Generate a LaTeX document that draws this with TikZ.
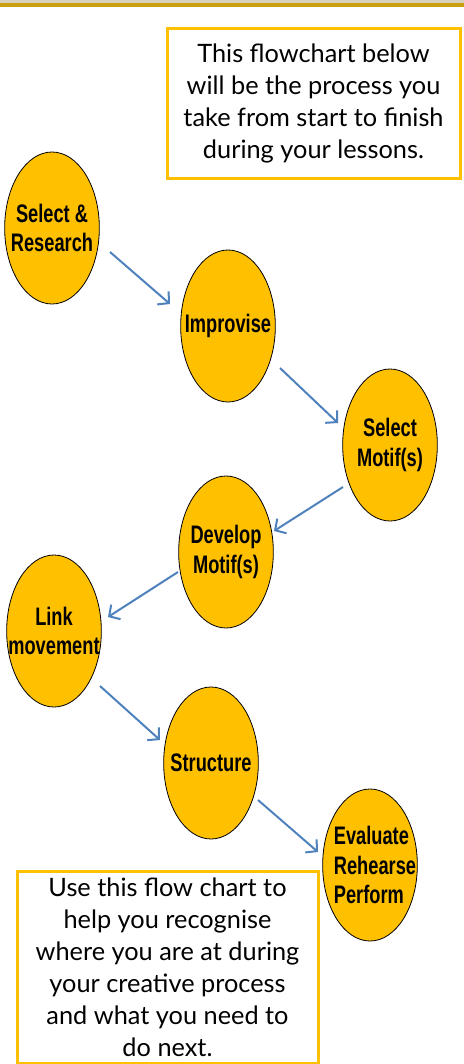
\documentclass[tikz,border=0pt]{standalone}
\usepackage{fontspec}
\setmainfont{Lato}
\newfontfamily\stagefont{Liberation Sans}[FakeStretch=0.72]
\usetikzlibrary{shapes.geometric}
\usetikzlibrary{arrows.meta}
\usetikzlibrary{calc}
\definecolor{stagegold}{RGB}{255,192,0}
\definecolor{flowblue}{RGB}{79,129,189}
\definecolor{bargold}{RGB}{200,160,16}
\definecolor{bargrey}{RGB}{214,210,190}
\tikzset{
  stage/.style={ellipse, draw=black, line width=0.6pt, fill=stagegold, minimum width=71pt, minimum height=114pt, inner sep=0pt},
  stagelabel/.style={inner sep=0pt, align=center, font=\stagefont\bfseries\fontsize{19}{22}\selectfont},
  flow/.style={-{Straight Barb[length=6pt,width=13pt]}, line width=1.5pt, flowblue},
  infobox/.style={draw=stagegold, line width=2.25pt, inner sep=0pt, align=center, font=\fontsize{19}{24}\selectfont}
}

\begin{document}
\begin{tikzpicture}[x=0.75pt, y=-0.75pt]
\useasboundingbox (0,0) rectangle (464,1064);
\fill[bargrey] (0,0) rectangle (464,3);
\fill[bargold] (0,3) rectangle (464,7);

\node[infobox, minimum width=219.75pt, minimum height=112.5pt] (intro) at (313.5,103) {This flowchart below\\will be the process you\\take from start to finish\\during your lessons.};
\node[infobox, minimum width=225.75pt, minimum height=144pt] (usage) at (167.5,967) {Use this flow chart to\\help you recognise\\where you are at during\\your creative process\\and what you need to\\do next.};

\node[stage] (sel) at (52,228) {};
\node[stage] (imp) at (228,326) {};
\node[stage] (mot) at (390,445) {};
\node[stage] (dev) at (226,552) {};
\node[stage] (lnk) at (54,631) {};
\node[stage] (str) at (211,763) {};
\node[stage] (eva) at (370,865) {};

\node[stagelabel] (sel-t) at (sel) {Select \&\\Research};
\node[stagelabel] (imp-t) at (imp) {Improvise};
\node[stagelabel] (mot-t) at (mot) {Select\\Motif(s)};
\node[stagelabel] (dev-t) at (dev) {Develop\\Motif(s)};
\node[stagelabel] (lnk-t) at (lnk) {Link\\movement};
\node[stagelabel] (str-t) at (str) {Structure};
\node[stagelabel, align=left] (eva-t) at ($(eva) + (5,0)$) {Evaluate\\Rehearse\\Perform};

\draw[flow] ($(sel) + (58,24)$) -- ($(imp) - (58,22)$);
\draw[flow] ($(imp) + (52,42)$) -- ($(mot) - (52,22)$);
\draw[flow] ($(mot) + (-47,42)$) -- ($(dev) + (48,-21)$);
\draw[flow] ($(dev) + (-48,20)$) -- ($(lnk) + (54,-14)$);
\draw[flow] ($(lnk) + (46,55)$) -- ($(str) - (51,23)$);
\draw[flow] ($(str) + (47,37)$) -- ($(eva) - (52,13)$);
\end{tikzpicture}
\end{document}
